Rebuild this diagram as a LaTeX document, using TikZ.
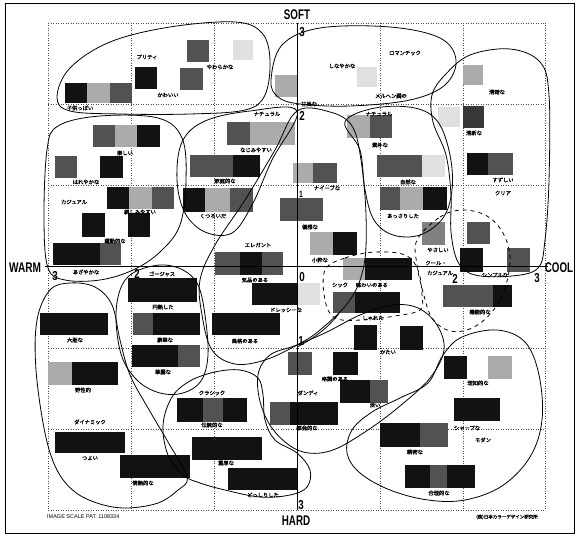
\documentclass[tikz,border=0pt]{standalone}
\usepackage{fontspec}
\setsansfont{Liberation Sans}
\newfontfamily\jp{Noto Sans CJK JP}[FakeBold=1.2]
\begin{document}
\begin{tikzpicture}[x=1pt,y=-1pt,
  gridl/.style={black!70,line width=0.5pt,dotted},
  axisl/.style={black,line width=1pt},
  loopl/.style={black,line width=0.8pt},
  dashl/.style={black,line width=0.8pt,dash pattern=on 4pt off 4pt},
  lbl/.style={font=\jp\fontsize{5.3}{6}\selectfont,inner sep=0pt},
  big/.style={font=\sffamily\bfseries\fontsize{14}{14}\selectfont,inner sep=0pt},
  num/.style={font=\sffamily\bfseries\fontsize{13}{13}\selectfont,inner sep=0pt},
  small/.style={font=\sffamily\fontsize{5.5}{6}\selectfont,inner sep=0pt}]
\newcount\labc
\newcommand\sqr[5]{\fill[#5] (#1,#2) rectangle (#3,#4);}
\newcommand\lab[3]{\global\advance\labc by 1 \node[lbl] (L\the\labc) at (#1,#2) {#3};}
\colorlet{blk}{black!93}
\colorlet{dg}{black!68}
\colorlet{mg}{black!50}
\colorlet{lg}{black!33}
\colorlet{vlg}{black!12}
\fill[white] (0,0) rectangle (578,537);
\useasboundingbox (0,0) rectangle (578,537);
\draw[line width=0.9pt] (5,3) rectangle (574,533);
% grid
\foreach \x in {48,131,214,380,463,545} \draw[gridl] (\x,23) -- (\x,510);
\foreach \y in {23,104,185,348,429,510} \draw[gridl] (48,\y) -- (545,\y);
% squares
\sqr{65}{83}{87}{103}{blk}\sqr{87}{83}{110}{103}{lg}\sqr{110}{83}{132}{103}{dg}
\sqr{135}{67}{157}{89}{blk}
\sqr{187}{40}{209}{62}{dg}
\sqr{180}{68}{203}{90}{dg}
\sqr{233}{40}{253}{60}{vlg}
\sqr{275}{75}{297}{97}{lg}
\sqr{357}{67}{377}{87}{vlg}
\sqr{463}{65}{483}{85}{lg}
\sqr{438}{107}{460}{127}{vlg}
\sqr{463}{106}{484}{128}{black!78}
\sqr{93}{125}{115}{147}{dg}\sqr{115}{125}{137}{147}{lg}\sqr{137}{125}{160}{147}{blk}
\sqr{55}{156}{77}{178}{dg}
\sqr{100}{156}{123}{178}{blk}
\sqr{107}{187}{129}{209}{blk}\sqr{129}{187}{152}{209}{lg}\sqr{152}{187}{174}{209}{dg}
\sqr{82}{213}{105}{237}{blk}
\sqr{128}{213}{150}{237}{blk}
\sqr{53}{243}{100}{265}{blk}\sqr{100}{243}{121}{265}{dg}
\sqr{227}{122}{250}{145}{dg}\sqr{250}{122}{295}{145}{lg}
\sqr{190}{155}{233}{177}{dg}\sqr{233}{155}{260}{177}{blk}
\sqr{183}{188}{205}{212}{blk}\sqr{205}{188}{230}{212}{lg}\sqr{230}{188}{253}{212}{dg}
\sqr{293}{163}{313}{183}{lg}\sqr{313}{163}{337}{183}{dg}
\sqr{280}{198}{323}{221}{dg}
\sqr{310}{232}{333}{255}{lg}\sqr{333}{232}{357}{255}{blk}
\sqr{343}{258}{365}{280}{lg}\sqr{365}{258}{412}{280}{blk}
\sqr{347}{115}{370}{138}{lg}\sqr{370}{115}{392}{138}{dg}
\sqr{377}{155}{422}{177}{dg}\sqr{422}{155}{445}{177}{vlg}
\sqr{380}{187}{400}{210}{dg}\sqr{400}{187}{423}{210}{lg}\sqr{423}{187}{447}{210}{blk}
\sqr{467}{153}{488}{175}{blk}\sqr{488}{153}{513}{175}{dg}
\sqr{422}{222}{445}{245}{mg}
\sqr{467}{222}{490}{244}{dg}
\sqr{460}{248}{483}{272}{blk}
\sqr{507}{248}{530}{272}{dg}
\sqr{215}{252}{240}{275}{dg}\sqr{240}{252}{262}{275}{blk}\sqr{262}{252}{283}{275}{dg}
\sqr{252}{283}{297}{305}{blk}\sqr{298}{283}{320}{305}{vlg}
\sqr{212}{313}{280}{335}{blk}
\sqr{333}{292}{355}{313}{dg}\sqr{355}{292}{400}{313}{blk}
\sqr{443}{285}{493}{307}{dg}\sqr{493}{285}{512}{307}{blk}
\sqr{354}{325}{377}{350}{blk}
\sqr{400}{326}{423}{350}{blk}
\sqr{288}{352}{312}{375}{dg}
\sqr{333}{352}{358}{375}{blk}
\sqr{340}{380}{370}{403}{blk}\sqr{370}{380}{388}{403}{dg}
\sqr{270}{402}{290}{425}{dg}\sqr{290}{402}{338}{425}{blk}
\sqr{444}{356}{467}{379}{blk}
\sqr{488}{356}{512}{379}{lg}
\sqr{454}{398}{500}{421}{blk}
\sqr{380}{423}{420}{447}{blk}\sqr{420}{423}{448}{447}{dg}
\sqr{405}{465}{430}{488}{blk}\sqr{430}{465}{447}{488}{dg}\sqr{447}{465}{475}{488}{blk}
\sqr{128}{278}{197}{302}{blk}
\sqr{133}{313}{153}{335}{dg}\sqr{153}{313}{200}{335}{blk}
\sqr{132}{345}{178}{367}{blk}\sqr{178}{345}{200}{367}{dg}
\sqr{40}{313}{108}{335}{blk}
\sqr{48}{362}{72}{385}{lg}\sqr{72}{362}{118}{385}{blk}
\sqr{55}{432}{125}{453}{blk}
\sqr{120}{455}{190}{478}{blk}
\sqr{177}{398}{203}{422}{blk}\sqr{203}{398}{223}{422}{dg}\sqr{223}{398}{247}{422}{blk}
\sqr{192}{437}{262}{460}{blk}
\sqr{228}{468}{298}{490}{blk}
% axes
\draw[axisl] (297,23) -- (297,510);
\draw[axisl] (45,267) -- (548,267);
% loops
\draw[loopl] plot[smooth cycle,tension=0.6] coordinates {(57,97) (70,68) (110,42) (170,27) (235,22) (262,33) (270,60) (265,95) (245,110) (190,114) (120,114) (70,111)};
\draw[loopl] plot[smooth cycle,tension=0.6] coordinates {(271,80) (282,45) (320,28) (390,27) (440,38) (456,60) (445,85) (410,100) (350,106) (300,104) (278,97)};
\draw[loopl] plot[smooth cycle,tension=0.6] coordinates {(445,75) (470,55) (510,49) (540,62) (549,95) (549,180) (545,240) (538,268) (512,276) (475,275) (458,262) (451,232) (451,195) (446,155) (433,122) (432,95)};
\draw[loopl] plot[smooth cycle,tension=0.6] coordinates {(297,111) (250,111) (205,121) (182,142) (177,180) (185,213) (205,232) (232,233) (252,205) (272,160)};
\draw[loopl] plot[smooth cycle,tension=0.6] coordinates {(297,111) (330,112) (352,126) (361,160) (366,215) (364,265) (350,300) (320,330) (297,345) (265,360) (235,364) (212,350) (202,315) (200,280) (215,245) (245,200) (275,150)};
\draw[loopl] plot[smooth cycle,tension=0.6] coordinates {(345,122) (375,108) (415,108) (438,122) (450,155) (452,190) (443,218) (420,235) (393,235) (374,220) (365,190) (360,150)};
\draw[loopl] plot[smooth cycle,tension=0.6] coordinates {(47,150) (58,126) (100,116) (158,118) (182,138) (186,180) (180,225) (160,252) (133,270) (100,280) (65,280) (48,268) (44,220)};
\draw[loopl] plot[smooth cycle,tension=0.6] coordinates {(133,273) (120,290) (116,320) (122,357) (138,381) (160,393) (183,393) (201,381) (208,355) (205,315) (198,285) (183,270) (160,265)};
\draw[loopl] plot[smooth cycle,tension=0.6] coordinates {(50,290) (37,320) (36,370) (45,433) (57,470) (75,492) (100,504) (127,508) (158,503) (178,490) (187,477) (168,442) (148,408) (130,375) (120,340) (112,305) (95,287) (70,283)};
\draw[loopl] plot[smooth cycle,tension=0.6] coordinates {(163,425) (172,397) (190,381) (215,372) (240,370) (258,378) (263,395) (265,420) (275,440) (297,453) (310,470) (307,487) (290,495) (260,497) (225,490) (200,483) (183,475) (168,455)};
\draw[loopl] plot[smooth cycle,tension=0.6] coordinates {(297,345) (270,355) (258,375) (261,405) (275,432) (300,451) (330,451) (365,432) (400,406) (430,378) (444,350) (437,325) (418,308) (392,305) (360,315) (327,332)};
\draw[loopl] plot[smooth cycle,tension=0.6] coordinates {(443,355) (462,337) (497,330) (525,342) (539,375) (542,420) (530,457) (502,486) (465,500) (428,500) (390,490) (360,473) (347,453) (352,430) (372,412) (400,398) (428,383)};
\draw[loopl] (297,347) .. controls (315,338) and (330,326) .. (340,312);
\draw[dashl] plot[smooth cycle,tension=0.6] coordinates {(325,270) (345,258) (375,252) (405,255) (418,270) (422,295) (420,310) (395,316) (362,320) (335,318) (325,300)};
\draw[dashl] plot[smooth cycle,tension=0.6] coordinates {(417,240) (440,217) (463,210) (487,216) (503,233) (510,258) (505,288) (492,312) (472,328) (450,331) (432,318) (423,292) (417,265)};
% axis labels
\node[big] (soft) at (297,15) {\scalebox{0.7}[1]{SOFT}};
\node[big] (hard) at (296,521) {\scalebox{0.7}[1]{HARD}};
\node[big] (warm) at (25,268) {\scalebox{0.72}[1]{WARM}};
\node[big] (cool) at (559,268) {\scalebox{0.7}[1]{COOL}};
\node[num] (n1) at (302,32) {\scalebox{0.75}[1]{3}};
\node[num] (n2) at (302,116) {\scalebox{0.75}[1]{2}};
\node[num,font=\sffamily\bfseries\fontsize{9}{9}\selectfont] (n3) at (301,194) {\scalebox{0.75}[1]{1}};
\node[num] (n4) at (302,277) {\scalebox{0.75}[1]{0}};
\node[num] (n5) at (301,341) {\scalebox{0.75}[1]{1}};
\node[num] (n6) at (301,505) {\scalebox{0.75}[1]{3}};
\node[num] (n7) at (55,276) {\scalebox{0.75}[1]{3}};
\node[num] (n8) at (137,274) {\scalebox{0.75}[1]{2}};
\node[num] (n9) at (455,279) {\scalebox{0.75}[1]{2}};
\node[num] (n10) at (537,278) {\scalebox{0.75}[1]{3}};
\node[small,anchor=west] (pat) at (47,517) {IMAGE SCALE PAT. 1108334};
\node[lbl,anchor=east,font=\jp\fontsize{4.5}{5}\selectfont] (inst) at (538,517) {(株)日本カラーデザイン研究所};
% labels
\lab{147}{57}{プリティ}
\lab{220}{67}{やわらかな}
\lab{168}{95}{かわいい}
\lab{80}{108}{子供っぽい}
\lab{342}{66}{しなやかな}
\lab{405}{53}{ロマンチック}
\lab{391}{96}{メルヘン調の}
\lab{309}{104}{甘美な}
\lab{497}{92}{清楚な}
\lab{474}{133}{清新な}
\lab{267}{114}{ナチュラル}
\lab{379}{114}{ナチュラル}
\lab{380}{145}{素朴な}
\lab{256}{150}{なじみやすい}
\lab{225}{181}{家庭的な}
\lab{213}{216}{くつろいだ}
\lab{327}{188}{ナイーブな}
\lab{310}{227}{優雅な}
\lab{408}{182}{自然な}
\lab{403}{216}{あっさりした}
\lab{503}{180}{すずしい}
\lab{503}{193}{クリア}
\lab{125}{153}{楽しい}
\lab{86}{182}{はれやかな}
\lab{74}{202}{カジュアル}
\lab{140}{212}{親しみやすい}
\lab{115}{241}{躍動的な}
\lab{86}{272}{あざやかな}
\lab{258}{245}{エレガント}
\lab{255}{280}{気品のある}
\lab{286}{310}{ドレッシーな}
\lab{320}{260}{小粋な}
\lab{340}{285}{シック}
\lab{372}{285}{味わいのある}
\lab{373}{318}{しゃれた}
\lab{436}{263}{クール・}
\lab{440}{273}{カジュアル}
\lab{438}{250}{やさしい}
\lab{495}{275}{シンプルな}
\lab{480}{312}{機能的な}
\lab{388}{352}{かたい}
\lab{335}{379}{格調のある}
\lab{308}{393}{ダンディ}
\lab{375}{405}{渋い}
\lab{307}{428}{都会的な}
\lab{478}{383}{理知的な}
\lab{467}{428}{シャープな}
\lab{483}{440}{モダン}
\lab{415}{452}{精密な}
\lab{439}{493}{合理的な}
\lab{212}{393}{クラシック}
\lab{212}{425}{伝統的な}
\lab{226}{463}{重厚な}
\lab{263}{495}{どっしりした}
\lab{90}{422}{ダイナミック}
\lab{90}{458}{つよい}
\lab{143}{483}{情熱的な}
\lab{83}{390}{野性的}
\lab{75}{340}{大胆な}
\lab{162}{274}{ゴージャス}
\lab{163}{307}{円熟した}
\lab{165}{340}{豪華な}
\lab{163}{372}{華麗な}
\lab{245}{341}{風格のある}
\end{tikzpicture}
\end{document}
